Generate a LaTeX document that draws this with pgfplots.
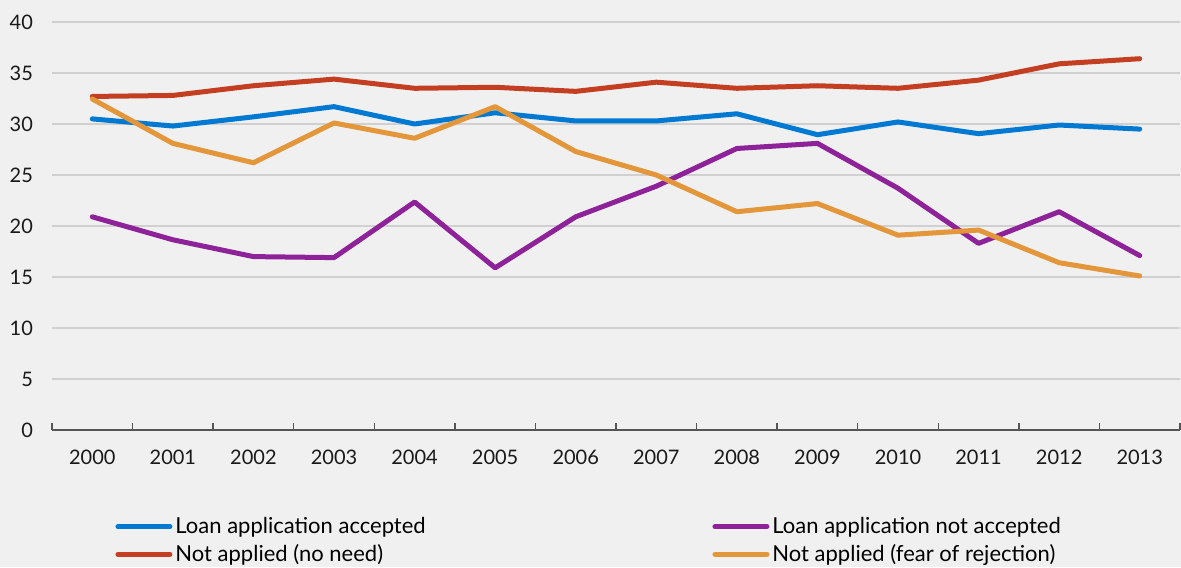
\documentclass[border=0pt]{standalone}
\usepackage{fontspec}
\setmainfont{Lato}
\usepackage{pgfplots}
\pgfplotsset{compat=1.18}
\definecolor{bg}{HTML}{F0F0F0}
\definecolor{gridc}{HTML}{D0D0D0}
\definecolor{axc}{HTML}{555555}
\definecolor{cblue}{HTML}{0079D2}
\definecolor{cred}{HTML}{C43E22}
\definecolor{cpurple}{HTML}{8E2298}
\definecolor{corange}{HTML}{E3963A}
\begin{document}
\begin{tikzpicture}
\fill[bg] (-26pt,-68.5pt) rectangle (564.5pt,215pt);
\useasboundingbox (-26pt,-68.5pt) rectangle (564.5pt,215pt);
\begin{axis}[
  at={(0,0)}, anchor=south west,
  scale only axis, width=564pt, height=204pt,
  xmin=-0.5, xmax=13.5, ymin=0, ymax=40,
  axis lines*=left,
  x axis line style={draw=axc, line width=1pt},
  y axis line style={draw=none},
  xtick={0,...,13},
  xticklabels={2000,2001,2002,2003,2004,2005,2006,2007,2008,2009,2010,2011,2012,2013},
  minor xtick={-0.5,0.5,...,13.5},
  ytick={0,5,...,40},
  major tick length=0pt,
  minor tick length=3.5pt,
  tick align=inside,
  minor tick style={draw=axc, line width=0.7pt},
  ymajorgrids,
  major grid style={draw=gridc, line width=0.7pt},
  tick label style={font=\fontsize{10}{12}\selectfont, text=black!90},
  /pgf/number format/assume math mode=true,
  yticklabel style={xshift=-6pt},
  xticklabel style={yshift=-6.5pt},
  clip=false,
  legend columns=2,
  legend cell align=left,
  legend style={at={(0.0559,-0.205)}, anchor=north west, draw=none, fill=none,
    inner sep=0pt, row sep=1pt, font=\fontsize{11}{13}\selectfont,
    nodes={inner sep=1.5pt}},
  legend image code/.code={\draw[#1, line width=2.5pt, line cap=round] (0pt,0pt) -- (26pt,0pt);},
  every axis plot/.append style={line width=2.5pt, line join=round, line cap=round, mark=none},
]
\addplot[cblue] coordinates {(0,30.5)(1,29.8)(2,30.7)(3,31.7)(4,30.0)(5,31.1)(6,30.3)(7,30.3)(8,31.0)(9,28.95)(10,30.2)(11,29.05)(12,29.9)(13,29.5)};
\addlegendentry{\makebox[267pt][l]{Loan application accepted}}
\addplot[cpurple] coordinates {(0,20.9)(1,18.65)(2,17.0)(3,16.9)(4,22.35)(5,15.9)(6,20.9)(7,23.9)(8,27.6)(9,28.1)(10,23.7)(11,18.3)(12,21.4)(13,17.1)};
\addlegendentry{Loan application not accepted}
\addplot[cred] coordinates {(0,32.7)(1,32.8)(2,33.75)(3,34.4)(4,33.5)(5,33.6)(6,33.2)(7,34.1)(8,33.5)(9,33.75)(10,33.5)(11,34.3)(12,35.9)(13,36.4)};
\addlegendentry{Not applied (no need)}
\addplot[corange] coordinates {(0,32.45)(1,28.1)(2,26.2)(3,30.1)(4,28.6)(5,31.7)(6,27.3)(7,25.0)(8,21.4)(9,22.2)(10,19.1)(11,19.6)(12,16.4)(13,15.1)};
\addlegendentry{Not applied (fear of rejection)}
\end{axis}
\end{tikzpicture}
\end{document}
